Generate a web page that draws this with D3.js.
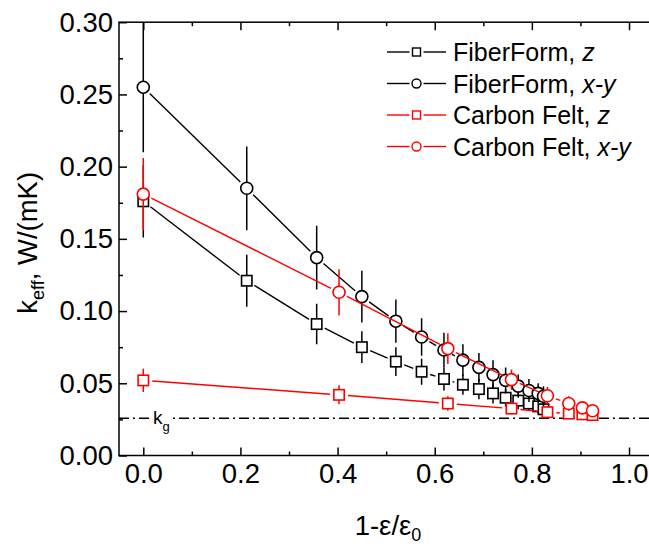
<!DOCTYPE html>
<html><head><meta charset="utf-8">
<script src="https://cdn.jsdelivr.net/npm/d3@7"></script>
<style>
html,body{margin:0;padding:0;background:#fff;}
text{font-family:"Liberation Sans",Arial,sans-serif;}
</style></head>
<body>
<svg id="chart" width="649" height="544"></svg>
<script>
// ---- data ----
const ffX = [0, 0.213, 0.357, 0.45, 0.52, 0.573, 0.619, 0.658, 0.691, 0.72, 0.746, 0.772, 0.794, 0.813, 0.824];
const ffZ = [0.176, 0.121, 0.091, 0.075, 0.065, 0.058, 0.053, 0.049, 0.046, 0.043, 0.040, 0.038, 0.036, 0.034, 0.032];
const ffZErr = [0.025, 0.018, 0.014, 0.011, 0.010, 0.009, 0.008, 0.007, 0.007, 0.007, 0.006, 0.006, 0.005, 0.005, 0.005];
const ffXY = [0.255, 0.185, 0.137, 0.110, 0.093, 0.082, 0.073, 0.066, 0.061, 0.056, 0.052, 0.048, 0.045, 0.043, 0.041];
const ffXYErr = [0.045, 0.029, 0.022, 0.018, 0.015, 0.013, 0.012, 0.011, 0.010, 0.010, 0.009, 0.008, 0.008, 0.007, 0.007];
const cfX = [0, 0.403, 0.627, 0.758, 0.832, 0.876, 0.904, 0.925];
const cfZ = [0.052, 0.042, 0.036, 0.0325, 0.030, 0.029, 0.0285, 0.028];
const cfZErr = [0.008, 0.0066, 0.005, 0.004, 0.004, 0.003, 0.003, 0.003];
const cfXY = [0.181, 0.113, 0.074, 0.0525, 0.0414, 0.036, 0.033, 0.031];
const cfXYErr = [0.025, 0.016, 0.0106, 0.007, 0.006, 0.005, 0.004, 0.004];
const kg = 0.0258;
const xMajor = [0, 0.2, 0.4, 0.6, 0.8, 1.0];
const xMinor = [0.1, 0.3, 0.5, 0.7, 0.9];
const yMajor = [0, 0.05, 0.10, 0.15, 0.20, 0.25, 0.30];
const yMinor = [0.025, 0.075, 0.125, 0.175, 0.225, 0.275];
const seriesNames = ["FiberForm, ", "FiberForm, ", "Carbon Felt, ", "Carbon Felt, "];
const seriesItal = ["z", "x-y", "z", "x-y"];

// ---- layout ----
const svg = d3.select("#chart");
const L = 119, R = 653.3, T = 22.2, B = 455.5;
const x = d3.scaleLinear().domain([-0.05, 1.05]).range([L, R]);
const y = d3.scaleLinear().domain([0, 0.30]).range([B, T]);
const FS = 25, TFS = 27.5;

const series = [
  {xs: ffX, ys: ffZ, es: ffZErr, color: "#000", shape: "square"},
  {xs: ffX, ys: ffXY, es: ffXYErr, color: "#000", shape: "circle"},
  {xs: cfX, ys: cfZ, es: cfZErr, color: "#ff0000", shape: "square"},
  {xs: cfX, ys: cfXY, es: cfXYErr, color: "#ff0000", shape: "circle"}
];

svg.append("defs").append("clipPath").attr("id","clip")
  .append("rect").attr("x",L).attr("y",T).attr("width",R-L).attr("height",B-T);

// kg reference line
svg.append("line").attr("x1",L).attr("x2",R).attr("y1",y(kg)).attr("y2",y(kg))
  .attr("stroke","#000").attr("stroke-width",1.5).attr("stroke-dasharray","10,4,2,4");
svg.append("rect").attr("x",152).attr("y",y(kg)-9).attr("width",20).attr("height",16).attr("fill","#fff");
const kgT = svg.append("text").attr("x",153).attr("y",y(kg)+6).attr("font-size",19);
kgT.append("tspan").text("k");
kgT.append("tspan").attr("font-size",13).attr("dy",7).text("g");

const plot = svg.append("g").attr("clip-path","url(#clip)");
const MR = 6, SQ = 5.2, GAP = 3;

function drawMarker(g, shape, cx, cy, color, r, sq, sw) {
  if (shape === "circle") {
    g.append("circle").attr("cx",cx).attr("cy",cy).attr("r",r)
      .attr("fill","#fff").attr("stroke",color).attr("stroke-width",sw);
  } else {
    g.append("rect").attr("x",cx-sq).attr("y",cy-sq).attr("width",2*sq).attr("height",2*sq)
      .attr("fill","#fff").attr("stroke",color).attr("stroke-width",sw);
  }
}

series.forEach(s => {
  const g = plot.append("g");
  const pts = s.xs.map((v,i)=>[x(v), y(s.ys[i])]);
  const rad = s.shape === "circle" ? MR : SQ*1.15;
  for (let i=0;i<pts.length-1;i++){
    const [x1,y1]=pts[i],[x2,y2]=pts[i+1];
    const dx=x2-x1, dy=y2-y1, d=Math.hypot(dx,dy);
    const off = rad+GAP;
    if (d > 2*off) {
      g.append("line")
        .attr("x1",x1+dx/d*off).attr("y1",y1+dy/d*off)
        .attr("x2",x2-dx/d*off).attr("y2",y2-dy/d*off)
        .attr("stroke",s.color).attr("stroke-width",1.4);
    }
  }
  s.xs.forEach((v,i)=>{
    g.append("line").attr("x1",x(v)).attr("x2",x(v))
      .attr("y1",y(s.ys[i]-s.es[i])).attr("y2",y(s.ys[i]+s.es[i]))
      .attr("stroke",s.color).attr("stroke-width",1.5);
  });
  pts.forEach(p=>drawMarker(g, s.shape, p[0], p[1], s.color, MR, SQ, 1.6));
});

// axes
const axG = svg.append("g");
function styleAxis(g){
  g.select(".domain").remove();
  g.selectAll(".tick line").attr("stroke","#000").attr("stroke-width",1.5);
  g.selectAll(".tick text").attr("font-size",TFS).attr("fill","#000")
    .style("font-family","'Liberation Sans',Arial,sans-serif");
}
const axBottom = axG.append("g").attr("transform",`translate(0,${B})`)
  .call(d3.axisBottom(x).tickValues(xMajor).tickSize(-8).tickPadding(8).tickFormat(d3.format(".1f")));
styleAxis(axBottom);
const axBottomMin = axG.append("g").attr("transform",`translate(0,${B})`)
  .call(d3.axisBottom(x).tickValues(xMinor).tickSize(-4).tickFormat(""));
styleAxis(axBottomMin);
const axTop = axG.append("g").attr("transform",`translate(0,${T})`)
  .call(d3.axisTop(x).tickValues(xMajor).tickSize(-8).tickFormat(""));
styleAxis(axTop);
const axTopMin = axG.append("g").attr("transform",`translate(0,${T})`)
  .call(d3.axisTop(x).tickValues(xMinor).tickSize(-4).tickFormat(""));
styleAxis(axTopMin);
const axLeft = axG.append("g").attr("transform",`translate(${L},0)`)
  .call(d3.axisLeft(y).tickValues(yMajor).tickSize(-8).tickPadding(6).tickFormat(d3.format(".2f")));
styleAxis(axLeft);
const axLeftMin = axG.append("g").attr("transform",`translate(${L},0)`)
  .call(d3.axisLeft(y).tickValues(yMinor).tickSize(-4).tickFormat(""));
styleAxis(axLeftMin);
axG.append("rect").attr("x",L).attr("y",T).attr("width",R-L).attr("height",B-T)
  .attr("fill","none").attr("stroke","#000").attr("stroke-width",1.5);

// axis titles
const xt = svg.append("text").attr("x",388).attr("y",535).attr("text-anchor","middle").attr("font-size",TFS);
xt.append("tspan").text("1-ε/ε");
xt.append("tspan").attr("font-size",18).attr("dy",6).text("0");

const yt = svg.append("text").attr("transform",`translate(37,${(T+B)/2 + 4}) rotate(-90)`)
  .attr("text-anchor","middle").attr("font-size",TFS);
yt.append("tspan").text("k");
yt.append("tspan").attr("font-size",18).attr("dy",7).text("eff");
yt.append("tspan").attr("dy",-7).text(", W/(mK)");

// legend
const legY0 = 52, legDY = 31.5, lx1 = 387, lx2 = 446, lmx = 416.5;
series.forEach((s,i)=>{
  const yy = legY0 + i*legDY;
  const g = svg.append("g");
  g.append("line").attr("x1",lx1).attr("x2",lmx-7).attr("y1",yy).attr("y2",yy).attr("stroke",s.color).attr("stroke-width",1.4);
  g.append("line").attr("x1",lmx+7).attr("x2",lx2).attr("y1",yy).attr("y2",yy).attr("stroke",s.color).attr("stroke-width",1.4);
  drawMarker(g, s.shape, lmx, yy, s.color, 4.5, 4, 1.4);
  const t = g.append("text").attr("x",453).attr("y",yy+9).attr("font-size",FS);
  t.append("tspan").text(seriesNames[i]);
  t.append("tspan").attr("font-style","italic").text(seriesItal[i]);
});
</script>
</body></html>
